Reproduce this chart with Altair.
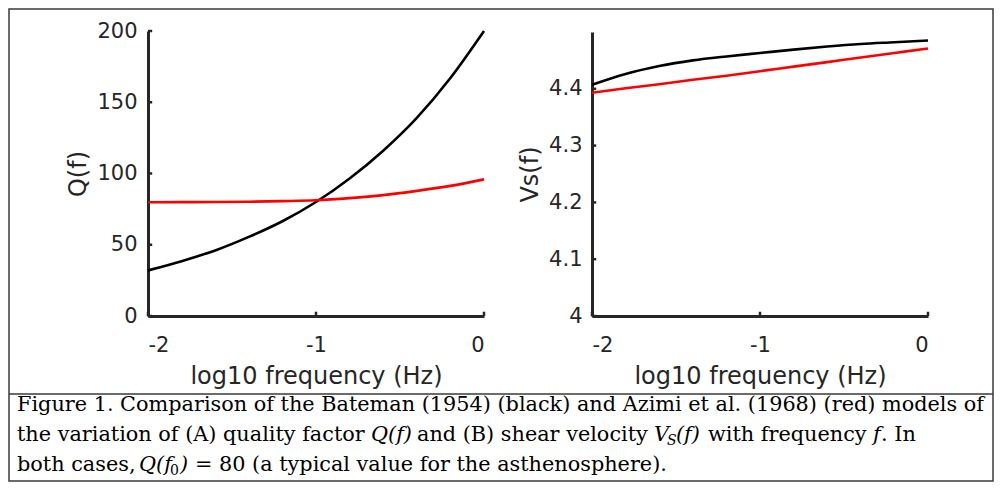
import altair as alt
import pandas as pd

# ---------------- data ----------------
logf = [-2.0, -1.8, -1.6, -1.4, -1.2, -1.0, -0.8, -0.6, -0.4, -0.2, 0.0]
q_bateman = [32.0, 38.5, 46.0, 55.5, 66.5, 80.0, 96.5, 116.0, 139.0, 167.0, 200.0]
q_azimi = [79.8, 79.9, 80.0, 80.2, 80.6, 81.2, 82.7, 84.8, 87.8, 91.3, 95.9]
vs_bateman = [4.407, 4.426, 4.440, 4.450, 4.457, 4.463, 4.469, 4.4745, 4.479, 4.482, 4.485]
vs_azimi = [4.393, 4.401, 4.408, 4.416, 4.423, 4.431, 4.439, 4.447, 4.455, 4.463, 4.471]

x_ticks = [-2, -1, 0]
q_ticks = [0, 50, 100, 150, 200]
vs_ticks = [4.0, 4.1, 4.2, 4.3, 4.4]

x_title = "log10 frequency (Hz)"
q_title = "Q(f)"
vs_title = "Vs(f)"

cap1 = ["Figure 1.  Comparison of the Bateman (1954) (black) and Azimi et al. (1968) (red) models of"]
cap2 = ["the variation of  (A) quality factor", "Q(f)", "and (B) shear velocity", "V", "S", "(f)",
        "with frequency", "f", ". In"]
cap3 = ["both cases,", "Q(f", "0", ")", "= 80 (a typical value for the asthenosphere)."]

# ---------------- layout ----------------
W, H = 984, 472
AX = "#262626"
LAB = 21
TIT = 24
AXIS_Y = 307

def xaxis():
    return alt.Axis(orient="bottom", offset=-(H - AXIS_Y), values=x_ticks,
                    labelExpr="'' + datum.value", ticks=False, labelPadding=18,
                    title=x_title, titleY=67, titleBaseline="alphabetic",
                    domainWidth=3, domainColor=AX, grid=False,
                    labelFontSize=LAB, titleFontSize=TIT, labelColor=AX, titleColor=AX,
                    labelFont="DejaVu Sans", titleFont="DejaVu Sans",
                    titleFontWeight="normal")

def yaxis(vals, title, off, tx, pad):
    return alt.Axis(orient="left", offset=off, values=vals,
                    labelExpr="'' + datum.value", ticks=False, labelPadding=pad,
                    title=title, titleX=tx, titleAngle=270, titleBaseline="alphabetic",
                    domainWidth=3, domainColor=AX, grid=False,
                    labelFontSize=LAB, titleFontSize=TIT, labelColor=AX, titleColor=AX,
                    labelFont="DejaVu Sans", titleFont="DejaVu Sans",
                    titleFontWeight="normal")

def panel(xr, yr, ydom, yvals, ytitle, yoff, ytx, ypad, black, red, xtick_len, ytick_len):
    xs = alt.Scale(domain=[-2, 0], range=xr)
    ys = alt.Scale(domain=ydom, range=yr)
    X = lambda f: alt.X(f, type="quantitative", scale=xs, axis=xaxis())
    Y = lambda f: alt.Y(f, type="quantitative", scale=ys, axis=yaxis(yvals, ytitle, yoff, ytx, ypad))
    d_black = pd.DataFrame({"x": logf, "y": black})
    d_red = pd.DataFrame({"x": logf, "y": red})
    l_black = alt.Chart(d_black).mark_line(color="black", strokeWidth=2.6, interpolate="monotone").encode(x=X("x"), y=Y("y"))
    l_red = alt.Chart(d_red).mark_line(color="#ff0000", strokeWidth=2.6, interpolate="monotone").encode(x=X("x"), y=Y("y"))
    d_xt = pd.DataFrame({"x": x_ticks, "y": [ydom[0]] * len(x_ticks), "y2": [ydom[0] + xtick_len] * len(x_ticks)})
    d_yt = pd.DataFrame({"y": yvals, "x": [-2] * len(yvals), "x2": [-2 + ytick_len] * len(yvals)})
    t_x = alt.Chart(d_xt).mark_rule(color=AX, strokeWidth=2.5).encode(x=X("x"), y=Y("y"), y2="y2")
    t_y = alt.Chart(d_yt).mark_rule(color=AX, strokeWidth=2.5).encode(x=X("x"), x2="x2", y=Y("y"))
    return alt.layer(t_x, t_y, l_black, l_red)

left = panel([139, 475], [AXIS_Y, 22], [0, 200], q_ticks, q_title, -139, -63, 11,
             q_bateman, q_azimi, 3, 0.025)
right = panel([583, 919], [AXIS_Y, 23], [4.0, 4.5], vs_ticks, vs_title, -583, -55, 10,
              vs_bateman, vs_azimi, 0.0075, 0.025)

# ---------------- caption ----------------
SEP = 385
B1, B2, B3 = 402, 432, 462
FS = 20.8
SUB = 14
cap_layout = [
    (cap1[0], 8, B1, "normal", FS),
    (cap2[0], 8, B2, "normal", FS),
    (cap2[1], 362, B2, "italic", FS),
    (cap2[2], 408, B2, "normal", FS),
    (cap2[3], 645, B2, "italic", FS),
    (cap2[4], 658, B2 + 4, "italic", SUB),
    (cap2[5], 667, B2, "italic", FS),
    (cap2[6], 699, B2, "normal", FS),
    (cap2[7], 864, B2, "italic", FS),
    (cap2[8], 872, B2, "normal", FS),
    (cap3[0], 8, B3, "normal", FS),
    (cap3[1], 130, B3, "italic", FS),
    (cap3[2], 161, B3 + 4, "normal", SUB),
    (cap3[3], 171, B3, "italic", FS),
    (cap3[4], 186, B3, "normal", FS),
]
cap_layers = []
for txt, px, py, style, size in cap_layout:
    cap_layers.append(
        alt.Chart(pd.DataFrame({"t": [txt]})).mark_text(
            align="left", baseline="alphabetic", font="DejaVu Serif",
            fontSize=size, fontStyle=style, color="black"
        ).encode(text="t:N", x=alt.value(px), y=alt.value(py))
    )

sep = alt.Chart(pd.DataFrame({"k": [0]})).mark_rule(color="#3a3a3a", strokeWidth=1.5).encode(
    x=alt.value(0), x2=alt.value(W), y=alt.value(SEP))

chart = alt.layer(left, right, sep, *cap_layers).resolve_scale(
    x="independent", y="independent").resolve_axis(x="independent", y="independent").properties(
    width=W, height=H, autosize=alt.AutoSizeParams(type="none"), padding=1
).configure_view(stroke="#3a3a3a", strokeWidth=1.5)

chart.save("out.html", embed_options={"renderer": "svg", "actions": False})
